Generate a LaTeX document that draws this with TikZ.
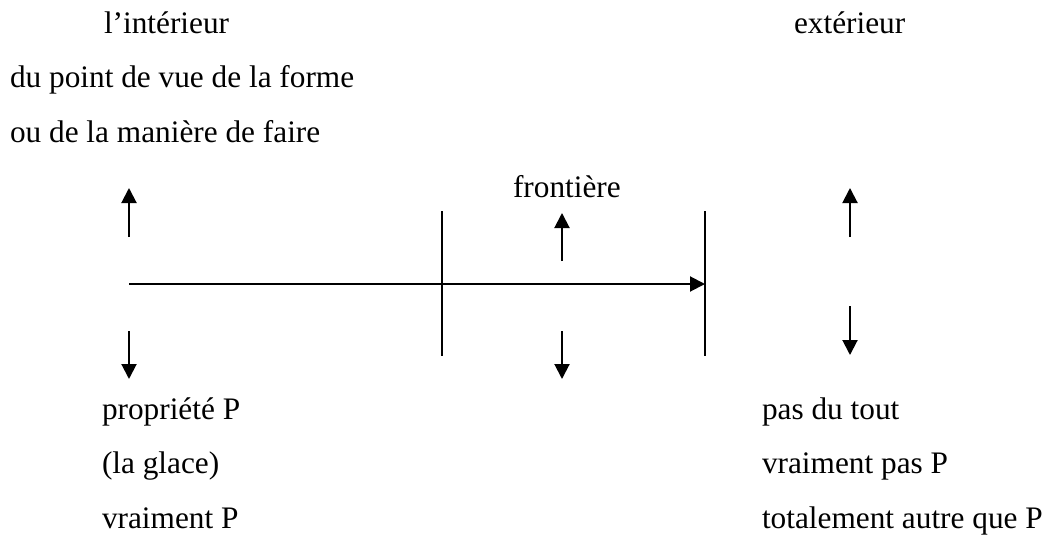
\documentclass[tikz,border=0pt]{standalone}
\usepackage{fontspec}
\setmainfont{Liberation Serif}
\usetikzlibrary{arrows.meta}
\begin{document}
\begin{tikzpicture}[x=1pt,y=-1pt,
  lbl/.style={anchor=base west,inner sep=0pt,outer sep=0pt,
    font=\fontsize{31.3}{40}\selectfont},
  rule/.style={line width=2pt},
  arr/.style={line width=2pt,-{Triangle[length=15pt,width=15pt]}}]
\useasboundingbox (0,0) rectangle (1057,538);

% headings and labels
\node[lbl] (int)  at (104,33)  {l’intérieur};
\node[lbl] (forme) at (10,87)  {du point de vue de la forme};
\node[lbl] (faire) at (10,142) {ou de la manière de faire};
\node[lbl] (front) at (513,197) {frontière};
\node[lbl] (ext)  at (794,33)  {extérieur};

\node[lbl] (propP)  at (102,419) {propriété P};
\node[lbl] (glace)  at (102,473) {(la glace)};
\node[lbl] (vraiP)  at (102,528) {vraiment P};
\node[lbl] (pastout) at (762,419) {pas du tout};
\node[lbl] (vpasP)  at (762,473) {vraiment pas P};
\node[lbl] (autreP) at (762,528) {totalement autre que P};

% axis and boundary marks
\coordinate (axL) at (129,284);
\coordinate (axR) at (705,284);
\coordinate (b1t) at (442,211);
\coordinate (b1b) at (442,356);
\coordinate (b2t) at (705,211);
\coordinate (b2b) at (705,356);
\draw[rule] (b1t) -- (b1b);
\draw[rule] (b2t) -- (b2b);
\draw[arr] (axL) -- (axR);

% up and down arrows
\coordinate (u1s) at (129,237); \coordinate (u1e) at (129,188);
\coordinate (d1s) at (129,331); \coordinate (d1e) at (129,379);
\coordinate (u2s) at (562,261); \coordinate (u2e) at (562,213);
\coordinate (d2s) at (562,331); \coordinate (d2e) at (562,379);
\coordinate (u3s) at (850,237); \coordinate (u3e) at (850,188);
\coordinate (d3s) at (850,306); \coordinate (d3e) at (850,355);
\draw[arr] (u1s) -- (u1e);
\draw[arr] (d1s) -- (d1e);
\draw[arr] (u2s) -- (u2e);
\draw[arr] (d2s) -- (d2e);
\draw[arr] (u3s) -- (u3e);
\draw[arr] (d3s) -- (d3e);
\end{tikzpicture}
\end{document}
